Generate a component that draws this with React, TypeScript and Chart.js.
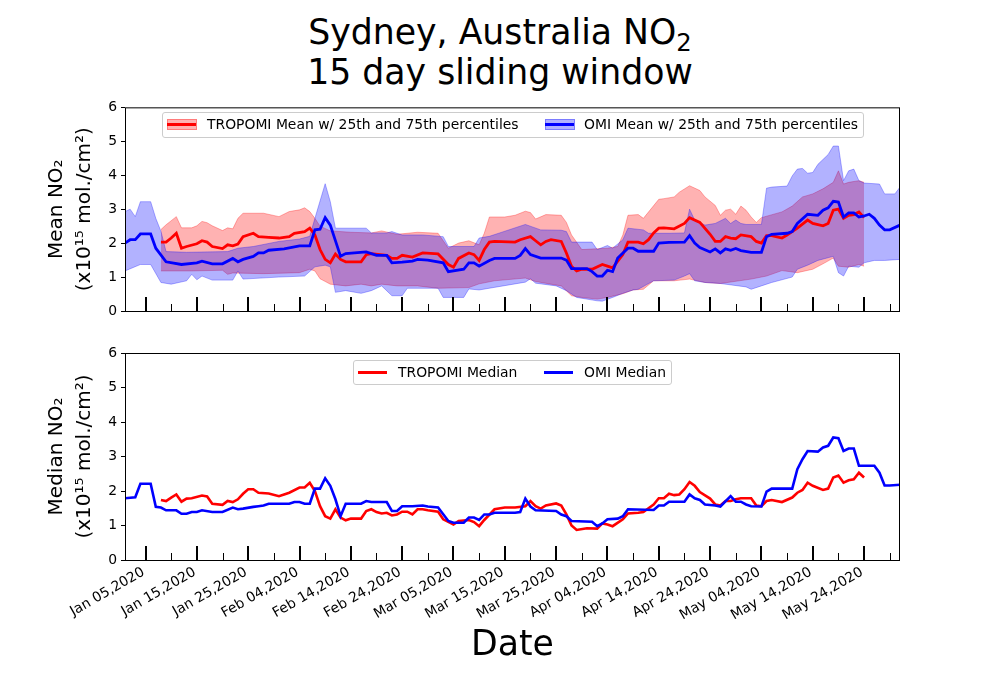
import React, { useEffect, useRef } from "react";
import { Chart, registerables } from "chart.js";

Chart.register(...registerables);

// ---- axis data (day 0 = Jan 01, 2020) ----
const tickDays = [4, 14, 24, 34, 44, 54, 64, 74, 84, 94, 104, 114, 124, 134, 144];
const tickLabels = [
  "Jan 05,2020", "Jan 15,2020", "Jan 25,2020", "Feb 04,2020", "Feb 14,2020",
  "Feb 24,2020", "Mar 05,2020", "Mar 15,2020", "Mar 25,2020", "Apr 04,2020",
  "Apr 14,2020", "Apr 24,2020", "May 04,2020", "May 14,2020", "May 24,2020",
];
const minorTickDays = [9, 19, 29, 39, 49, 59, 69, 79, 89, 99, 109, 119, 129, 139, 149];
const yTicks = [0, 1, 2, 3, 4, 5, 6];

// ---- series: [day, value] ----
const omiMean = [
  [0, 2.0], [1, 2.1], [2, 2.1], [3, 2.27], [5, 2.27], [6, 1.85], [8, 1.45], [11, 1.37], [14, 1.42], [15, 1.47],
  [17, 1.39], [19, 1.39], [21, 1.55], [22, 1.45], [23, 1.52], [25, 1.61], [26, 1.71], [27, 1.71], [28, 1.79], [31, 1.83],
  [34, 1.92], [36, 1.92], [37, 2.39], [38, 2.41], [39, 2.75], [40, 2.53], [42, 1.61], [43, 1.69], [47, 1.74], [49, 1.64],
  [51, 1.64], [52, 1.42], [54, 1.44], [56, 1.47], [57, 1.52], [59, 1.5], [62, 1.42], [63, 1.16], [66, 1.23], [67, 1.42],
  [68, 1.42], [69, 1.32], [71, 1.49], [72, 1.55], [76, 1.55], [77, 1.64], [78, 1.84], [79, 1.66], [81, 1.56], [85, 1.56],
  [86, 1.5], [87, 1.25], [90, 1.25], [91, 1.16], [92, 1.03], [93, 1.03], [94, 1.2], [95, 1.16], [96, 1.56], [98, 1.85],
  [99, 1.85], [100, 1.76], [103, 1.76], [104, 2.0], [106, 2.02], [109, 2.03], [110, 2.22], [111, 2.0], [112, 1.87], [114, 1.74],
  [115, 1.83], [116, 1.71], [117, 1.83], [118, 1.79], [119, 1.84], [120, 1.78], [122, 1.73], [124, 1.73], [125, 2.19], [126, 2.26],
  [129, 2.29], [130, 2.34], [131, 2.58], [133, 2.85], [135, 2.82], [136, 2.97], [137, 3.04], [138, 3.23], [139, 3.21], [140, 2.77],
  [141, 2.89], [142, 2.89], [143, 2.77], [144, 2.8], [145, 2.85], [146, 2.73], [147, 2.53], [148, 2.39], [149, 2.39], [151, 2.53],
];
const omiP75 = [
  [0, 2.93], [1, 3.0], [2, 2.78], [3, 3.22], [5, 3.22], [6, 2.73], [7, 2.35], [8, 1.75], [12, 1.73], [20, 1.75],
  [22, 1.85], [25, 1.9], [30, 2.05], [34, 2.12], [36, 2.2], [37, 2.73], [39, 3.75], [40, 3.22], [41, 2.44], [47, 2.44],
  [48, 2.3], [51, 2.3], [52, 2.34], [54, 2.24], [58, 2.24], [62, 2.19], [63, 1.9], [68, 1.9], [69, 2.15], [71, 2.2],
  [73, 2.3], [78, 2.55], [81, 2.39], [85, 2.38], [86, 2.34], [87, 2.03], [91, 2.03], [92, 1.81], [94, 1.93], [95, 1.85],
  [97, 2.1], [98, 2.44], [101, 2.39], [102, 2.29], [106, 2.29], [109, 2.3], [110, 3.0], [111, 2.68], [113, 2.53], [115, 2.58],
  [117, 2.73], [118, 2.58], [119, 2.68], [120, 2.58], [121, 2.55], [124, 2.55], [125, 3.62], [126, 3.65], [129, 3.68], [130, 3.98],
  [131, 4.18], [132, 4.2], [133, 4.06], [134, 4.08], [135, 4.32], [137, 4.61], [138, 4.86], [139, 4.86], [140, 3.84], [141, 4.13],
  [142, 4.18], [143, 3.84], [144, 3.77], [147, 3.74], [148, 3.45], [150, 3.45], [151, 3.65],
];
const omiP25 = [
  [0, 1.18], [3, 1.37], [5, 1.37], [7, 0.84], [9, 0.79], [12, 0.89], [13, 1.08], [14, 0.92], [15, 1.03], [17, 0.91],
  [21, 0.91], [22, 1.18], [23, 0.94], [30, 1.0], [35, 1.03], [37, 1.3], [39, 1.35], [40, 1.3], [41, 0.55], [43, 0.6],
  [46, 0.52], [48, 0.6], [50, 0.74], [52, 0.45], [54, 0.45], [55, 0.67], [61, 0.67], [62, 0.4], [66, 0.4], [67, 0.65],
  [69, 0.62], [78, 0.85], [79, 0.95], [80, 0.82], [84, 0.74], [86, 0.6], [88, 0.4], [92, 0.3], [93, 0.29], [95, 0.4],
  [97, 0.52], [99, 0.62], [100, 0.64], [103, 0.89], [107, 0.91], [109, 1.03], [110, 1.1], [111, 0.89], [113, 0.84], [116, 0.81],
  [121, 0.71], [122, 0.64], [124, 0.74], [126, 0.84], [130, 1.0], [131, 1.23], [133, 1.35], [135, 1.49], [138, 1.61], [139, 1.13],
  [140, 1.03], [141, 1.32], [143, 1.29], [144, 1.42], [146, 1.49], [148, 1.49], [151, 1.52],
];
const tropMean = [
  [7, 2.03], [8, 2.03], [9, 2.15], [10, 2.29], [11, 1.85], [12, 1.9], [14, 1.98], [15, 2.07], [16, 2.03], [17, 1.9],
  [19, 1.84], [20, 1.95], [21, 1.92], [22, 1.97], [23, 2.19], [25, 2.29], [26, 2.19], [28, 2.17], [30, 2.15], [32, 2.19],
  [33, 2.29], [35, 2.34], [36, 2.44], [37, 2.24], [38, 1.81], [39, 1.52], [40, 1.42], [41, 1.68], [42, 1.52], [43, 1.45],
  [46, 1.45], [47, 1.66], [48, 1.69], [51, 1.64], [52, 1.55], [53, 1.55], [54, 1.64], [56, 1.59], [58, 1.71], [61, 1.68],
  [63, 1.37], [64, 1.29], [65, 1.55], [67, 1.71], [68, 1.66], [69, 1.49], [70, 1.81], [71, 2.03], [72, 2.05], [76, 2.03],
  [77, 2.1], [79, 2.19], [80, 2.07], [81, 1.95], [82, 2.05], [83, 2.1], [85, 2.05], [86, 1.71], [87, 1.32], [88, 1.18],
  [89, 1.23], [91, 1.23], [93, 1.37], [94, 1.32], [95, 1.27], [97, 1.66], [98, 2.03], [100, 2.03], [101, 1.98], [102, 2.1],
  [103, 2.3], [104, 2.44], [105, 2.45], [107, 2.42], [109, 2.58], [110, 2.75], [112, 2.61], [114, 2.26], [115, 2.05], [116, 2.05],
  [117, 2.19], [118, 2.15], [119, 2.13], [120, 2.24], [122, 2.19], [123, 2.05], [124, 2.0], [125, 2.22], [126, 2.22], [128, 2.15],
  [129, 2.24], [130, 2.34], [131, 2.44], [133, 2.68], [134, 2.58], [136, 2.51], [137, 2.58], [138, 2.97], [139, 3.0], [140, 2.73],
  [141, 2.82], [142, 2.84], [143, 2.92], [144, 2.75],
];
const tropP75 = [
  [7, 2.4], [8, 2.54], [10, 2.78], [11, 2.45], [13, 2.45], [14, 2.51], [15, 2.64], [16, 2.6], [17, 2.51], [19, 2.37],
  [20, 2.45], [21, 2.42], [22, 2.73], [23, 2.88], [27, 2.88], [30, 2.78], [32, 2.93], [34, 2.98], [35, 3.04], [36, 2.93],
  [37, 2.73], [38, 2.5], [40, 2.36], [44, 2.32], [48, 2.3], [50, 2.36], [53, 2.26], [57, 2.32], [61, 2.29], [63, 1.85],
  [65, 2.0], [67, 2.07], [69, 1.95], [70, 2.29], [71, 2.77], [74, 2.77], [76, 2.82], [78, 2.94], [79, 2.9], [80, 2.71],
  [82, 2.84], [85, 2.82], [86, 2.61], [87, 2.24], [89, 1.81], [94, 1.85], [96, 1.9], [97, 2.24], [98, 2.82], [100, 2.84],
  [101, 2.73], [104, 3.29], [105, 3.31], [107, 3.36], [108, 3.5], [110, 3.69], [112, 3.55], [113, 3.36], [115, 3.11], [116, 2.82],
  [117, 2.97], [118, 3.0], [119, 2.85], [120, 3.09], [121, 2.97], [122, 2.77], [123, 2.61], [124, 2.75], [128, 2.92], [130, 3.09],
  [132, 3.36], [134, 3.45], [136, 3.6], [138, 3.79], [139, 4.13], [140, 3.74], [141, 3.79], [143, 3.84], [144, 3.79],
];
const tropP25 = [
  [7, 1.18], [13, 1.18], [19, 1.2], [20, 1.08], [21, 1.12], [27, 1.1], [34, 1.13], [36, 1.23], [37, 1.18], [38, 0.95],
  [40, 0.79], [43, 0.74], [46, 0.79], [48, 0.74], [50, 0.79], [53, 0.74], [57, 0.74], [61, 0.67], [67, 0.69], [69, 0.8],
  [72, 0.89], [78, 0.97], [80, 0.87], [83, 0.79], [85, 0.74], [87, 0.45], [89, 0.4], [92, 0.35], [94, 0.4], [97, 0.51],
  [99, 0.62], [101, 0.64], [103, 0.89], [107, 0.89], [110, 0.94], [113, 0.84], [116, 0.81], [122, 0.94], [125, 1.03], [128, 1.19],
  [131, 1.13], [134, 1.23], [136, 1.39], [138, 1.56], [139, 1.32], [141, 1.29], [143, 1.37], [144, 1.32],
];
const omiMedian = [
  [0, 1.79], [2, 1.82], [3, 2.21], [5, 2.21], [6, 1.54], [7, 1.52], [8, 1.44], [10, 1.44], [11, 1.34], [12, 1.34],
  [13, 1.39], [14, 1.39], [15, 1.44], [17, 1.39], [19, 1.39], [21, 1.52], [22, 1.47], [23, 1.49], [25, 1.54], [26, 1.56],
  [27, 1.58], [28, 1.63], [32, 1.63], [33, 1.68], [34, 1.68], [35, 1.63], [36, 1.63], [37, 2.07], [38, 2.07], [39, 2.37],
  [40, 2.15], [41, 1.76], [42, 1.27], [43, 1.63], [46, 1.63], [47, 1.71], [48, 1.68], [51, 1.68], [52, 1.42], [53, 1.42],
  [54, 1.56], [56, 1.56], [58, 1.58], [59, 1.55], [61, 1.52], [63, 1.13], [64, 1.08], [66, 1.08], [67, 1.23], [68, 1.23],
  [69, 1.16], [70, 1.32], [71, 1.32], [72, 1.37], [76, 1.37], [77, 1.39], [78, 1.78], [79, 1.55], [80, 1.44], [84, 1.42],
  [85, 1.32], [86, 1.27], [87, 1.13], [91, 1.11], [92, 0.98], [93, 1.06], [94, 1.18], [96, 1.2], [97, 1.27], [98, 1.47],
  [103, 1.45], [104, 1.58], [105, 1.58], [106, 1.69], [109, 1.69], [110, 1.9], [111, 1.79], [112, 1.74], [113, 1.61], [115, 1.58],
  [116, 1.55], [118, 1.85], [119, 1.69], [120, 1.69], [121, 1.61], [122, 1.56], [124, 1.55], [125, 1.98], [126, 2.07], [130, 2.07],
  [131, 2.63], [132, 2.92], [133, 3.16], [135, 3.14], [136, 3.26], [137, 3.31], [138, 3.55], [139, 3.53], [140, 3.16], [141, 3.23],
  [142, 3.23], [143, 2.73], [146, 2.73], [147, 2.53], [148, 2.16], [149, 2.16], [151, 2.18],
];
const tropMedian = [
  [7, 1.74], [8, 1.71], [9, 1.81], [10, 1.9], [11, 1.69], [12, 1.78], [13, 1.79], [15, 1.87], [16, 1.84], [17, 1.63],
  [19, 1.6], [20, 1.71], [21, 1.68], [22, 1.76], [23, 1.92], [24, 2.05], [25, 2.05], [26, 1.95], [28, 1.93], [30, 1.85],
  [31, 1.9], [32, 1.95], [34, 2.1], [35, 2.1], [36, 2.24], [37, 2.0], [38, 1.56], [39, 1.27], [40, 1.2], [41, 1.47],
  [42, 1.23], [43, 1.15], [44, 1.2], [46, 1.2], [47, 1.42], [48, 1.47], [49, 1.39], [50, 1.35], [51, 1.37], [52, 1.29],
  [53, 1.32], [54, 1.4], [55, 1.4], [56, 1.32], [57, 1.47], [58, 1.47], [59, 1.44], [61, 1.4], [62, 1.18], [64, 1.03],
  [65, 1.13], [67, 1.16], [68, 1.1], [69, 0.98], [70, 1.16], [72, 1.47], [74, 1.52], [76, 1.52], [78, 1.56], [79, 1.71],
  [80, 1.56], [81, 1.49], [82, 1.58], [84, 1.64], [85, 1.58], [86, 1.32], [87, 1.0], [88, 0.87], [90, 0.92], [92, 0.91],
  [93, 1.06], [94, 1.03], [95, 0.98], [97, 1.18], [98, 1.35], [100, 1.37], [101, 1.39], [102, 1.5], [103, 1.61], [104, 1.79],
  [105, 1.79], [106, 1.92], [107, 1.88], [108, 1.9], [109, 2.05], [110, 2.26], [111, 2.15], [112, 1.97], [114, 1.78], [115, 1.61],
  [116, 1.58], [117, 1.71], [118, 1.71], [119, 1.76], [120, 1.79], [122, 1.79], [123, 1.58], [124, 1.56], [125, 1.71], [126, 1.74],
  [128, 1.68], [130, 1.81], [131, 1.95], [132, 2.03], [133, 2.24], [134, 2.15], [136, 2.03], [137, 2.07], [138, 2.39], [139, 2.45],
  [140, 2.24], [141, 2.31], [142, 2.34], [143, 2.53], [144, 2.39],
];

const FONT = "'DejaVu Sans', sans-serif";
const RED = "#ff0000";
const BLUE = "#0000ff";
const RED_FILL = "rgba(255,0,0,0.3)";
const BLUE_FILL = "rgba(0,0,255,0.3)";

const pts = (s: number[][]) => s.map(([x, y]) => ({ x, y }));

const framePlugin = {
  id: "mplFrame",
  afterDatasetsDraw(chart: any) {
    const { ctx, chartArea: a, scales } = chart;
    const xs = scales.x;
    ctx.save();
    ctx.strokeStyle = "#000";
    ctx.lineWidth = 1;
    ctx.strokeRect(a.left + 0.5, a.top + 0.5, a.right - a.left - 1, a.bottom - a.top);
    ctx.lineWidth = 2;
    tickDays.forEach((d) => {
      const x = Math.round(xs.getPixelForValue(d));
      ctx.beginPath();
      ctx.moveTo(x, a.bottom);
      ctx.lineTo(x, a.bottom - 14);
      ctx.stroke();
    });
    ctx.lineWidth = 1;
    minorTickDays.forEach((d) => {
      const x = Math.round(xs.getPixelForValue(d)) + 0.5;
      ctx.beginPath();
      ctx.moveTo(x, a.bottom);
      ctx.lineTo(x, a.bottom - 7);
      ctx.stroke();
    });
    ctx.restore();
  },
};

const makeOptions = (yTitle: string[], showLabels: boolean, padTop: number, padBottom: number, xHeight: number): any => ({
  responsive: false,
  maintainAspectRatio: false,
  animation: false,
  layout: { padding: { left: 0, right: 100, top: padTop, bottom: padBottom } },
  plugins: { legend: { display: false }, tooltip: { enabled: false }, title: { display: false } },
  elements: { point: { radius: 0 }, line: { tension: 0 } },
  scales: {
    x: {
      type: "linear",
      min: 0,
      max: 151,
      grid: { display: false },
      border: { display: false },
      afterBuildTicks: (s: any) => {
        s.ticks = tickDays.map((v) => ({ value: v }));
      },
      afterFit: (s: any) => {
        s.height = xHeight;
      },
      ticks: {
        display: showLabels,
        autoSkip: false,
        minRotation: 30,
        maxRotation: 30,
        padding: -4,
        labelOffset: -2,
        color: "#000",
        font: { family: FONT, size: 13.9 },
        callback: (v: number) => {
          const i = tickDays.indexOf(v);
          return i >= 0 ? tickLabels[i] : "";
        },
      },
    },
    y: {
      type: "linear",
      min: 0,
      max: 6,
      afterFit: (s: any) => {
        s.width = 125;
      },
      afterBuildTicks: (s: any) => {
        s.ticks = yTicks.map((v) => ({ value: v }));
      },
      grid: { drawOnChartArea: false, drawTicks: true, tickLength: 4, tickColor: "#000", color: "#000" },
      border: { display: false },
      ticks: { color: "#000", padding: 4, font: { family: FONT, size: 13.9 }, callback: (v: number) => String(v) },
      title: {
        display: true,
        text: yTitle,
        color: "#000",
        font: { family: FONT, size: 20, lineHeight: "28px" },
        padding: { top: 43, bottom: 0 },
      },
    },
  },
});

const Handle = ({ left, top, color, fill }: { left: number; top: number; color: string; fill?: string }) => (
  <div style={{ position: "absolute", left, top, width: 29, height: 14 }}>
    {fill && (
      <div
        style={{
          position: "absolute",
          left: 0,
          top: 2,
          width: 28,
          height: 9,
          background: fill,
          border: `1px solid ${fill}`,
        }}
      />
    )}
    <div style={{ position: "absolute", left: 0, top: 5.5, width: 29, height: 3, background: color }} />
  </div>
);

const Label = ({ left, top, text }: { left: number; top: number; text: string }) => (
  <div style={{ position: "absolute", left, top, fontSize: 13.9, lineHeight: "16px", whiteSpace: "nowrap", color: "#000" }}>
    {text}
  </div>
);

export default function App() {
  const topRef = useRef<HTMLCanvasElement>(null);
  const botRef = useRef<HTMLCanvasElement>(null);

  useEffect(() => {
    const top = new Chart(topRef.current as HTMLCanvasElement, {
      type: "line",
      data: {
        datasets: [
          { data: pts(omiMean), borderColor: BLUE, borderWidth: 2.8, fill: false },
          { data: pts(tropMean), borderColor: RED, borderWidth: 2.8, fill: false },
          { data: pts(omiP75), borderColor: BLUE_FILL, borderWidth: 1, backgroundColor: BLUE_FILL, fill: 3 },
          { data: pts(omiP25), borderColor: BLUE_FILL, borderWidth: 1, fill: false },
          { data: pts(tropP75), borderColor: RED_FILL, borderWidth: 1, backgroundColor: RED_FILL, fill: 5 },
          { data: pts(tropP25), borderColor: RED_FILL, borderWidth: 1, fill: false },
        ],
      } as any,
      options: makeOptions(["Mean NO\u2082", "(x10\u00b9\u2075 mol./cm\u00b2)"], false, 9, 19, 0),
      plugins: [framePlugin],
    });
    const bot = new Chart(botRef.current as HTMLCanvasElement, {
      type: "line",
      data: {
        datasets: [
          { data: pts(omiMedian), borderColor: BLUE, borderWidth: 2.6, fill: false },
          { data: pts(tropMedian), borderColor: RED, borderWidth: 2.6, fill: false },
        ],
      } as any,
      options: makeOptions(["Median NO\u2082", "(x10\u00b9\u2075 mol./cm\u00b2)"], true, 13, 0, 80),
      plugins: [framePlugin],
    });
    return () => {
      top.destroy();
      bot.destroy();
    };
  }, []);

  const legendBox = {
    position: "absolute" as const,
    border: "1px solid #cccccc",
    borderRadius: 3,
    background: "rgba(255,255,255,0.8)",
    boxSizing: "border-box" as const,
  };

  return (
    <div
      style={{
        position: "absolute",
        left: 0,
        top: 0,
        width: 1000,
        height: 700,
        background: "#fff",
        fontFamily: FONT,
        overflow: "hidden",
      }}
    >
      <div
        style={{
          position: "absolute",
          left: 0,
          top: 12,
          width: 1000,
          textAlign: "center",
          fontSize: 34.7,
          lineHeight: "40px",
          color: "#000",
        }}
      >
        <div>
          Sydney, Australia NO
          <sub style={{ fontSize: "70%", lineHeight: 0, verticalAlign: "-0.3em" }}>2</sub>
        </div>
        <div>15 day sliding window</div>
      </div>

      <canvas ref={topRef} width={1000} height={235} style={{ position: "absolute", left: 0, top: 95 }} />
      <canvas ref={botRef} width={1000} height={300} style={{ position: "absolute", left: 0, top: 340 }} />

      {/* top legend */}
      <div style={{ ...legendBox, left: 162, top: 112, width: 702, height: 26 }} />
      <Handle left={167} top={117} color={RED} fill={RED_FILL} />
      <Label left={207} top={116} text="TROPOMI Mean w/ 25th and 75th percentiles" />
      <Handle left={545} top={117} color={BLUE} fill={BLUE_FILL} />
      <Label left={584} top={116} text="OMI Mean w/ 25th and 75th percentiles" />

      {/* bottom legend */}
      <div style={{ ...legendBox, left: 353, top: 360, width: 319, height: 25 }} />
      <Handle left={358} top={365} color={RED} />
      <Label left={398} top={364} text="TROPOMI Median" />
      <Handle left={544} top={365} color={BLUE} />
      <Label left={584} top={364} text="OMI Median" />

      <div
        style={{
          position: "absolute",
          left: 412.5,
          top: 623,
          width: 200,
          textAlign: "center",
          fontSize: 34.7,
          lineHeight: "40px",
          color: "#000",
        }}
      >
        Date
      </div>
    </div>
  );
}
